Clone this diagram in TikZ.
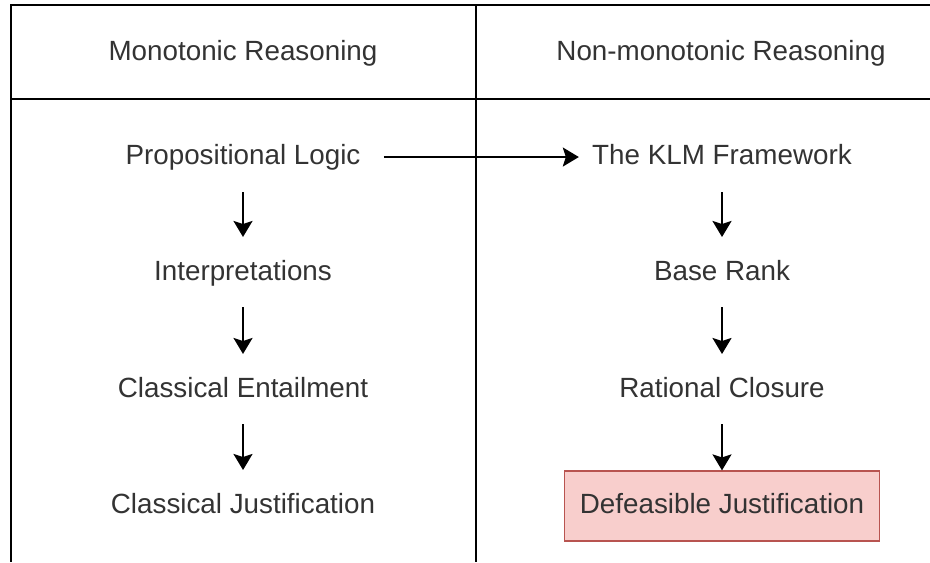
\documentclass[tikz,border=0pt]{standalone}
\usepackage{fontspec}
\setmainfont{Liberation Sans}
\usetikzlibrary{arrows.meta}
\definecolor{txt}{HTML}{333333}
\definecolor{redfill}{HTML}{F8CECC}
\definecolor{redline}{HTML}{B85450}
\begin{document}
\begin{tikzpicture}[x=0.5pt,y=-0.5pt,
  grid/.style={line width=1pt,draw=black},
  label/.style={anchor=base,inner sep=0pt,text=txt,
    font=\fontsize{13.9}{16}\selectfont,text height=10pt,text depth=3pt},
  flow/.style={line width=1pt,-{Stealth[length=8pt,width=9.5pt,inset=1.5pt]}},
  highlight/.style={label,draw=redline,fill=redfill,line width=0.6pt,
    minimum width=157.5pt,minimum height=35pt}]
\useasboundingbox (0,0) rectangle (930,562);

% table frame
\draw[grid] (930,5) -- (11,5) -- (11,562);
\draw[grid] (11,99) -- (930,99);
\draw[grid] (476,5) -- (476,562);

% column headings
\node[label] (hmono) at (243,60) {Monotonic Reasoning};
\node[label] (hnon)  at (721,60) {Non-monotonic Reasoning};

% monotonic column
\node[label] (pl) at (243,164) {Propositional Logic};
\node[label] (ip) at (243,280) {Interpretations};
\node[label] (ce) at (243,397) {Classical Entailment};
\node[label] (cj) at (243,513) {Classical Justification};

% non-monotonic column
\node[label] (klm) at (722,164) {The KLM Framework};
\node[label] (br)  at (722,280) {Base Rank};
\node[label] (rc)  at (722,397) {Rational Closure};
\node[highlight] (dj) at (722,513) {Defeasible Justification};

% connectors
\draw[flow] ([xshift=11.5pt,yshift=3.5pt]pl.base east) -- ([xshift=-6.5pt,yshift=3.5pt]klm.base west);
\draw[flow] ([yshift=-14pt]pl.base) -- ([yshift=21.5pt]ip.base);
\draw[flow] ([yshift=-13.5pt]ip.base) -- ([yshift=21.5pt]ce.base);
\draw[flow] ([yshift=-13.5pt]ce.base) -- ([yshift=21.5pt]cj.base);
\draw[flow] ([yshift=-14pt]klm.base) -- ([yshift=21.5pt]br.base);
\draw[flow] ([yshift=-13.5pt]br.base) -- ([yshift=21.5pt]rc.base);
\draw[flow] ([yshift=-13.5pt]rc.base) -- (dj.north);
\end{tikzpicture}
\end{document}
